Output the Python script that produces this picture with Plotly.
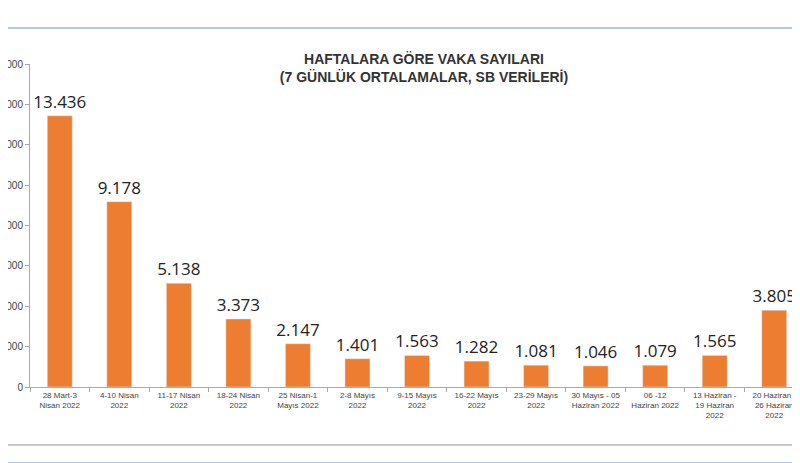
import plotly.graph_objects as go

categories = ["28 Mart-3<br>Nisan 2022", "4-10 Nisan<br>2022", "11-17 Nisan<br>2022", "18-24 Nisan<br>2022",
              "25 Nisan-1<br>Mayıs 2022", "2-8 Mayıs<br>2022", "9-15 Mayıs<br>2022", "16-22 Mayıs<br>2022",
              "23-29 Mayıs<br>2022", "30 Mayıs - 05<br>Haziran 2022", "06 -12<br>Haziran 2022",
              "13 Haziran -<br>19 Haziran<br>2022", "20 Haziran -<br>26 Haziran<br>2022"]
values = [13436, 9178, 5138, 3373, 2147, 1401, 1563, 1282, 1081, 1046, 1079, 1565, 3805]
labels = ["13.436", "9.178", "5.138", "3.373", "2.147", "1.401", "1.563", "1.282", "1.081", "1.046", "1.079", "1.565", "3.805"]
tickvals = [0, 2000, 4000, 6000, 8000, 10000, 12000, 14000, 16000]

fig = go.Figure(go.Bar(x=categories, y=values, text=labels, textposition="outside",
                       constraintext="none",
                       textfont=dict(size=17, color="#222", family="Open Sans"),
                       marker_color="#ED7D31", cliponaxis=False))
fig.update_layout(
    width=800, height=463, margin=dict(l=22, r=4, t=56, b=84),
    paper_bgcolor="white", plot_bgcolor="white", showlegend=False, bargap=0.58,
    font=dict(family="Liberation Sans", color="#444"),
    title=dict(text="<b>HAFTALARA GÖRE VAKA SAYILARI<br>(7 GÜNLÜK ORTALAMALAR, SB VERİLERİ)</b>",
               x=0.52, xanchor="center", y=0.88, yanchor="middle",
               font=dict(size=14, color="#333")),
    xaxis=dict(tickfont=dict(size=8, color="#444"), showline=True, linecolor="#aaa", tickangle=0,
               automargin=False,
               ticks="outside", ticklen=4, tickcolor="#aaa", tickson="boundaries"),
    yaxis=dict(range=[0, 16000], tickvals=tickvals, tickformat="d", showgrid=False, automargin=False,
               showline=True, linecolor="#aaa", ticks="outside", ticklen=4, tickcolor="#aaa",
               tickfont=dict(size=10, color="#444")),
    shapes=[
        dict(type="line", xref="paper", yref="paper", x0=-0.05, x1=1.05, y0=1 + 36/323, y1=1 + 36/323,
             line=dict(color="#b8c8dc", width=2)),
        dict(type="line", xref="paper", yref="paper", x0=-0.05, x1=1.05, y0=-58/323, y1=-58/323,
             line=dict(color="#c8c8c8", width=2)),
        dict(type="line", xref="paper", yref="paper", x0=-0.05, x1=1.05, y0=-76/323, y1=-76/323,
             line=dict(color="#b8c8dc", width=2)),
    ],
)
fig.write_html("out.html")
